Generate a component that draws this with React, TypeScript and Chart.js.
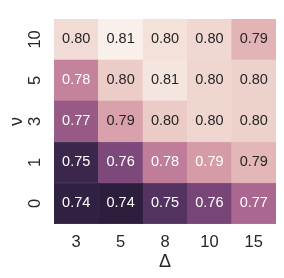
import React, { useEffect, useRef } from "react";
import { Chart, registerables } from "chart.js";

Chart.register(...registerables);

const deltaLabels = ["3", "5", "8", "10", "15"];
const nuLabels = ["0", "1", "3", "5", "10"]; // bottom to top

const row0 = [0.7438, 0.743, 0.752, 0.7594, 0.7717];
const row1 = [0.7463, 0.7607, 0.7783, 0.7865, 0.7935];
const row3 = [0.7668, 0.7881, 0.7988, 0.8016, 0.8004];
const row5 = [0.7799, 0.7992, 0.8057, 0.8016, 0.8004];
const row10 = [0.8033, 0.8086, 0.8045, 0.802, 0.793];

const rows = [row0, row1, row3, row5, row10];

const FONT = "'Liberation Sans', Arial, sans-serif";
const DARK = "#262626";

function cubehelix(x: number): [number, number, number] {
  const start = 0, rot = 0.4, hue = 0.8, gamma = 1;
  const xg = Math.pow(x, gamma);
  const a = (hue * xg * (1 - xg)) / 2;
  const phi = 2 * Math.PI * (start / 3 + rot * x);
  const c = Math.cos(phi), s = Math.sin(phi);
  const cl = (v: number) => Math.min(1, Math.max(0, v));
  return [
    cl(xg + a * (-0.14861 * c + 1.78277 * s)),
    cl(xg + a * (-0.29227 * c - 0.90649 * s)),
    cl(xg + a * (1.97294 * c)),
  ];
}

const allVals = rows.flat();
const vmin = Math.min(...allVals);
const vmax = Math.max(...allVals);

function colorFor(v: number) {
  const t = (v - vmin) / (vmax - vmin);
  return cubehelix(0.15 + 0.8 * t);
}
function toCss(rgb: [number, number, number]) {
  return `rgb(${Math.round(rgb[0] * 255)},${Math.round(rgb[1] * 255)},${Math.round(rgb[2] * 255)})`;
}
function luminance(rgb: [number, number, number]) {
  const lin = rgb.map((c) => (c <= 0.03928 ? c / 12.92 : Math.pow((c + 0.055) / 1.055, 2.4)));
  return 0.2126 * lin[0] + 0.7152 * lin[1] + 0.0722 * lin[2];
}

const annotPlugin = {
  id: "annot",
  afterDatasetsDraw(chart: any) {
    const ctx = chart.ctx;
    ctx.save();
    ctx.font = `14.5px ${FONT}`;
    ctx.textAlign = "center";
    ctx.textBaseline = "middle";
    chart.data.datasets.forEach((ds: any, di: number) => {
      const meta = chart.getDatasetMeta(di);
      meta.data.forEach((el: any, i: number) => {
        const v = rows[di][i];
        const rgb = colorFor(v);
        ctx.fillStyle = luminance(rgb) > 0.408 ? DARK : "#ffffff";
        const cy = (el.y + el.base) / 2;
        ctx.fillText(v.toFixed(2), el.x, cy);
      });
    });
    ctx.restore();
  },
};

export default function App() {
  const ref = useRef<HTMLCanvasElement>(null);
  useEffect(() => {
    if (!ref.current) return;
    const datasets = rows.map((r, ri) => ({
      label: nuLabels[ri],
      data: r.map(() => [ri - 0.5, ri + 0.5]),
      backgroundColor: r.map((v) => toCss(colorFor(v))),
      borderColor: r.map((v) => toCss(colorFor(v))),
      borderWidth: 0.5,
      borderSkipped: false,
      barPercentage: 1,
      categoryPercentage: 1,
      grouped: false,
    }));
    const chart = new Chart(ref.current, {
      type: "bar",
      data: { labels: deltaLabels, datasets: datasets as any },
      options: {
        responsive: false,
        animation: false,
        layout: { padding: { top: 7, right: 8, left: 0, bottom: 0 } },
        plugins: { legend: { display: false }, tooltip: { enabled: false } },
        scales: {
          x: {
            type: "category",
            grid: { display: false, drawTicks: false },
            border: { display: false },
            ticks: { color: DARK, font: { size: 16.5, family: FONT }, padding: 9, maxRotation: 0 },
            title: { display: true, text: "Δ", color: DARK, font: { size: 18, family: FONT }, padding: { top: 0, bottom: 5 } },
            afterFit: (s: any) => { s.height = 54; },
          },
          y: {
            type: "linear",
            min: -0.5,
            max: 4.5,
            grid: { display: false, drawTicks: false },
            border: { display: false },
            afterBuildTicks: (s: any) => { s.ticks = nuLabels.map((_, i) => ({ value: i })); },
            ticks: {
              color: DARK,
              font: { size: 16.5, family: FONT },
              padding: 9,
              minRotation: 90,
              maxRotation: 90,
              crossAlign: "center",
              callback: (v: any) => nuLabels[Number(v)] ?? "",
            },
            title: { display: true, text: "ν", color: DARK, font: { size: 18, family: FONT }, padding: { top: 6, bottom: 0 } },
            afterFit: (s: any) => { s.width = 54; },
          },
        },
      },
      plugins: [annotPlugin],
    });
    return () => chart.destroy();
  }, []);
  return (
    <div style={{ position: "absolute", left: 0, top: 0, width: 284, height: 278, background: "#fff" }}>
      <canvas ref={ref} width={284} height={278} style={{ display: "block" }} />
    </div>
  );
}
